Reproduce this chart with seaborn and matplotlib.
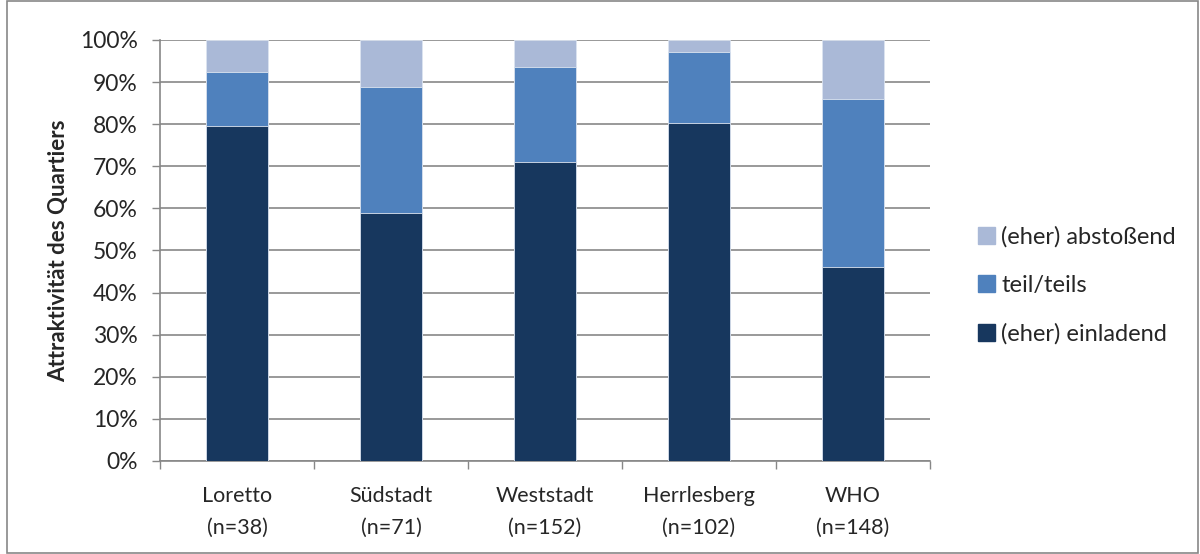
import matplotlib

matplotlib.use("Agg")

import matplotlib.pyplot as plt
import matplotlib.patches as mpatches
import numpy as np
import pandas as pd
import seaborn as sns

quartiers = ["Loretto\n(n=38)", "Südstadt\n(n=71)", "Weststadt\n(n=152)",
             "Herrlesberg\n(n=102)", "WHO\n(n=148)"]
einladend = [79.5, 59.0, 71.0, 80.3, 46.0]
teil_teils = [13.0, 29.8, 22.6, 16.8, 40.0]
abstossend = [7.5, 11.2, 6.4, 2.9, 14.0]

series_labels = ["(eher) abstoßend", "teil/teils", "(eher) einladend"]
colors = {"(eher) abstoßend": "#aab9d7", "teil/teils": "#4f81bd",
          "(eher) einladend": "#17375e"}

df = pd.DataFrame({
    "quartier": quartiers,
    "einladend": einladend,
    "teil": teil_teils,
    "abst": abstossend,
})
df["top_teil"] = df["einladend"] + df["teil"]
df["top_all"] = df["top_teil"] + df["abst"]

sns.set_theme(style="white")
plt.rcParams["font.family"] = ["Lato", "DejaVu Sans"]

fig = plt.figure(figsize=(12, 5.54), dpi=100)
ax = fig.add_axes([0.1333, 0.1679, 0.6417, 0.7599])

# stacked look: draw cumulative totals back to front
for col, label in [("top_all", "(eher) abstoßend"), ("top_teil", "teil/teils"),
                   ("einladend", "(eher) einladend")]:
    sns.barplot(data=df, x="quartier", y=col, color=colors[label], width=0.4,
                edgecolor="#dce4f0", linewidth=0.6, saturation=1, ax=ax, zorder=3)

grey = "#878787"
ax.set_ylim(0, 100)
ax.set_xlim(-0.5, 4.5)
ax.set_yticks(np.arange(0, 101, 10))
ax.set_yticklabels([f"{v}%" for v in range(0, 101, 10)], fontsize=16.5)
ax.yaxis.grid(True, color=grey, linewidth=1.2, zorder=0)
ax.set_axisbelow(True)
ax.tick_params(axis="y", length=6, color=grey, width=1, left=True, pad=10)

ax.set_xticks(range(len(quartiers)))
ax.set_xticklabels(quartiers, fontsize=15.5, linespacing=1.75)
ax.set_xticks(np.arange(-0.5, 5, 1), minor=True)
ax.tick_params(axis="x", which="major", length=0, pad=18)
ax.tick_params(axis="x", which="minor", length=6, color=grey, width=1, bottom=True)

ax.set_xlabel("")
ax.set_ylabel("Attraktivität des Quartiers", fontsize=16, fontweight="bold", labelpad=8)

for side in ["top", "right"]:
    ax.spines[side].set_visible(False)
for side in ["left", "bottom"]:
    ax.spines[side].set_color(grey)
    ax.spines[side].set_linewidth(1.2)

handles = [mpatches.Patch(color=colors[s], label=s) for s in series_labels]
fig.legend(handles=handles, loc="center left", bbox_to_anchor=(0.797, 0.485),
           frameon=False, fontsize=17, handlelength=0.75, handleheight=0.75,
           handletextpad=0.25, labelspacing=1.15)

fig.patches.append(mpatches.Rectangle((0.006, 0.002), 0.992, 0.996,
                                      transform=fig.transFigure, fill=False,
                                      edgecolor=grey, linewidth=1.2))

fig.savefig("out.png", dpi=100)
